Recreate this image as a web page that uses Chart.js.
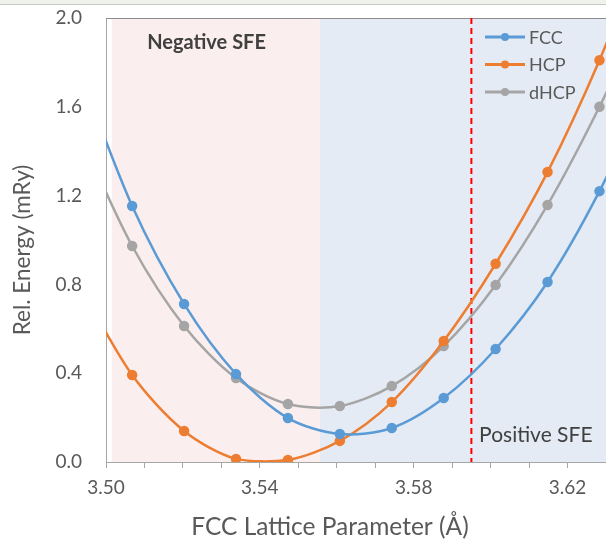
<!DOCTYPE html>
<html>
<head>
<meta charset="utf-8">
<script src="https://cdn.jsdelivr.net/npm/chart.js@4.4.1/dist/chart.umd.min.js"></script>
<style>
  html, body { margin: 0; padding: 0; background: #fff; }
  #wrap { position: relative; width: 606px; height: 545px; }
  canvas { display: block; }
  #topband { position: absolute; left: 0; top: 0; width: 606px; height: 4px; background: #eef2ea; border-bottom: 1px solid #c8c8c8; }
</style>
</head>
<body>
<div id="wrap">
  <canvas id="energyChart" width="606" height="545"></canvas>
  <div id="topband"></div>
</div>
<script>
// lattice parameters (Å) - first and last points lie outside the visible axis
const latticeParams = [3.4933, 3.5068, 3.5203, 3.5338, 3.5473, 3.5608, 3.5743, 3.5878, 3.6013, 3.6148, 3.6283, 3.6418];

const fccEnergy  = [1.75, 1.153, 0.712, 0.396, 0.198, 0.126, 0.153, 0.288, 0.509, 0.811, 1.22, 1.72];
const hcpEnergy  = [0.79, 0.392, 0.140, 0.014, 0.009, 0.095, 0.270, 0.545, 0.893, 1.306, 1.81, 2.40];
const dhcpEnergy = [1.47, 0.973, 0.613, 0.378, 0.261, 0.252, 0.342, 0.522, 0.797, 1.158, 1.60, 2.10];

const seriesNames  = ['FCC', 'HCP', 'dHCP'];
const seriesColors = ['#5B9BD5', '#ED7D31', '#A5A5A5'];

// shaded regions + SFE boundary
const negRegion = [3.5015, 3.5556];
const posRegion = [3.5556, 3.63];
const sfeBoundary = 3.595;

const fontFam = 'Lato, "Open Sans", sans-serif';
const textGray = '#595959';

function pts(ys) {
    return latticeParams.map((x, i) => ({ x: x, y: ys[i] }));
}

const overlayPlugin = {
    id: 'overlay',
    beforeDatasetsDraw(chart) {
        const { ctx, chartArea: a, scales: { x } } = chart;
        ctx.save();
        ctx.fillStyle = '#FBEEEE';
        ctx.fillRect(x.getPixelForValue(negRegion[0]), a.top, x.getPixelForValue(negRegion[1]) - x.getPixelForValue(negRegion[0]), a.bottom - a.top);
        ctx.fillStyle = '#E5EBF5';
        ctx.fillRect(x.getPixelForValue(posRegion[0]), a.top, x.getPixelForValue(posRegion[1]) - x.getPixelForValue(posRegion[0]), a.bottom - a.top);

        // top border of plot
        ctx.strokeStyle = '#8c8c8c';
        ctx.lineWidth = 1;
        ctx.beginPath();
        ctx.moveTo(a.left, a.top + 0.5);
        ctx.lineTo(a.right, a.top + 0.5);
        ctx.stroke();

        // dashed boundary
        const bx = x.getPixelForValue(sfeBoundary);
        ctx.strokeStyle = '#FF0000';
        ctx.lineWidth = 2;
        ctx.setLineDash([6, 4]);
        ctx.beginPath();
        ctx.moveTo(bx, a.top);
        ctx.lineTo(bx, a.bottom);
        ctx.stroke();
        ctx.setLineDash([]);

        // region labels
        ctx.fillStyle = '#404040';
        ctx.font = 'bold 20px ' + fontFam;
        ctx.textBaseline = 'middle';
        ctx.textAlign = 'left';
        ctx.fillText('Negative SFE', x.getPixelForValue(3.5107), a.top + 25);
        ctx.font = '21px ' + fontFam;
        ctx.fillText('Positive SFE', x.getPixelForValue(3.597), a.bottom - 27);

        // axis titles (the original's plot extends past the crop, so they sit off-centre)
        ctx.fillStyle = textGray;
        ctx.textAlign = 'center';
        ctx.font = '24.5px ' + fontFam;
        ctx.fillText('FCC Lattice Parameter (Å)', 330, 527);
        ctx.save();
        ctx.translate(23, 250);
        ctx.rotate(-Math.PI / 2);
        ctx.font = '22.5px ' + fontFam;
        ctx.fillText('Rel. Energy (mRy)', 0, 0);
        ctx.restore();
        ctx.restore();
    },
    afterDatasetsDraw(chart) {
        // legend inside plot, top right
        const { ctx, chartArea: a } = chart;
        ctx.save();
        ctx.font = '18px ' + fontFam;
        ctx.textBaseline = 'middle';
        ctx.textAlign = 'left';
        chart.data.datasets.forEach((ds, i) => {
            const y = a.top + 19 + i * 27.5;
            const x0 = 485;
            ctx.strokeStyle = ds.borderColor;
            ctx.lineWidth = 3;
            ctx.beginPath();
            ctx.moveTo(x0, y);
            ctx.lineTo(x0 + 40, y);
            ctx.stroke();
            ctx.fillStyle = ds.borderColor;
            ctx.beginPath();
            ctx.arc(x0 + 20, y, 4, 0, Math.PI * 2);
            ctx.fill();
            ctx.fillStyle = textGray;
            ctx.fillText(ds.label, x0 + 44, y + 1);
        });
        ctx.restore();
    }
};

const ctx = document.getElementById('energyChart').getContext('2d');

const energyChart = new Chart(ctx, {
    type: 'line',
    data: {
        datasets: [fccEnergy, hcpEnergy, dhcpEnergy].map((ys, i) => ({
            label: seriesNames[i],
            data: pts(ys),
            borderColor: seriesColors[i],
            backgroundColor: seriesColors[i],
            borderWidth: 2.5,
            pointRadius: 4,
            pointHoverRadius: 4,
            tension: 0.3,
            fill: false
        }))
    },
    options: {
        responsive: false,
        animation: false,
        layout: { autoPadding: false, padding: { top: 18, right: 0, left: 0, bottom: 0 } },
        plugins: {
            legend: { display: false },
            tooltip: { enabled: false }
        },
        scales: {
            x: {
                type: 'linear',
                min: 3.50,
                max: 3.63,
                afterFit: (s) => { s.height = 83; s.paddingLeft = 0; s.paddingRight = 0; },
                border: { color: '#a6a6a6', width: 1 },
                grid: { drawOnChartArea: false, drawTicks: true, tickLength: 6, color: '#a6a6a6' },
                ticks: {
                    stepSize: 0.01,
                    autoSkip: false,
                    maxRotation: 0,
                    padding: 8,
                    color: textGray,
                    font: { family: fontFam, size: 19 },
                    callback: (v) => (Math.round(v * 100) % 4 === 2 ? v.toFixed(2) : '')
                }
            },
            y: {
                min: 0,
                max: 2.0,
                afterFit: (s) => { s.width = 106; s.paddingTop = 0; s.paddingBottom = 0; },
                border: { color: '#a6a6a6', width: 1 },
                grid: { drawOnChartArea: false, drawTicks: false },
                ticks: {
                    stepSize: 0.4,
                    padding: 24,
                    color: textGray,
                    font: { family: fontFam, size: 19 },
                    callback: (v) => v.toFixed(1)
                }
            }
        }
    },
    plugins: [overlayPlugin]
});
</script>
</body>
</html>
